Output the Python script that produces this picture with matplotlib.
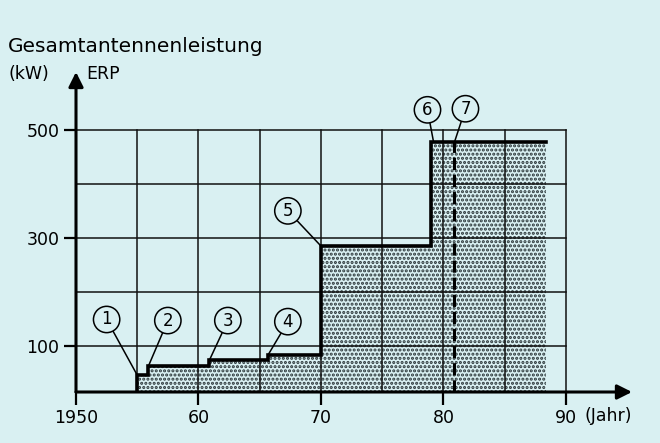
import matplotlib
matplotlib.use("Agg")
import matplotlib.pyplot as plt

# Gesamtantennenleistung (kW ERP) nach Jahr
step_years = [1955.0, 1955.9, 1960.9, 1965.7, 1970.0, 1979.0]
step_power = [46, 62, 74, 84, 285, 477]
end_year = 1988.4
dashed_year = 1980.9

# circled markers: label, label position, point on the curve
marker_labels = ["1", "2", "3", "4", "5", "6", "7"]
marker_pos = [(1952.5, 149), (1957.5, 147), (1962.4, 147), (1967.3, 145),
              (1967.3, 350), (1978.7, 537), (1981.8, 539)]
marker_target = [(1955.0, 46), (1955.9, 62), (1960.9, 74), (1965.7, 84),
                 (1970.0, 285), (1979.2, 477), (1980.9, 477)]

yticks = [100, 300, 500]
xticks = [1950, 1960, 1970, 1980, 1990]
xticklabels = ["1950", "60", "70", "80", "90"]

bg = "#d9f0f2"
plt.rcParams["font.family"] = ["DejaVu Sans"]
plt.rcParams["hatch.linewidth"] = 1.5
plt.rcParams["hatch.color"] = "#2a3538"

fig = plt.figure(figsize=(6.6, 4.43), dpi=100, facecolor=bg)
ax = fig.add_axes([76 / 660, 1 - 392 / 443, 556 / 660, 320 / 443])
ax.set_facecolor(bg)
xmin, xmax = 1950, 1995.4
ymin, ymax = 14.8, 607
ax.set_xlim(xmin, xmax)
ax.set_ylim(ymin, ymax)
for s in ax.spines.values():
    s.set_visible(False)

# stippled area under the curve
xs = [step_years[0]] + step_years + [end_year]
ys = [ymin] + step_power + [step_power[-1]]
ax.fill_between(xs, ys, ymin, step="post", facecolor=bg, hatch="....",
                edgecolor="#2a3538", linewidth=0, zorder=1)

# grid
for x in range(1955, 1991, 5):
    ax.plot([x, x], [ymin, 500], color="#111111", lw=1.1, zorder=2)
for y in range(100, 501, 100):
    ax.plot([xmin, 1990], [y, y], color="#111111", lw=1.1, zorder=2)

# step curve
ax.step(xs, ys, where="post", color="black", lw=2.6, zorder=4,
        solid_joinstyle="miter")
ax.plot([dashed_year, dashed_year], [ymin, step_power[-1]], color="black",
        lw=2.2, ls=(0, (4, 1.6)), zorder=4)

# axes with arrows
arrow = dict(arrowstyle="-|>", color="black", lw=2.2, mutation_scale=22,
             shrinkA=0, shrinkB=0)
ax.annotate("", xy=(xmax, ymin), xytext=(xmin, ymin), arrowprops=arrow,
            zorder=5, annotation_clip=False)
ax.annotate("", xy=(xmin, ymax), xytext=(xmin, ymin), arrowprops=arrow,
            zorder=5, annotation_clip=False)

ax.set_yticks(yticks)
ax.set_yticklabels([str(v) for v in yticks])
ax.set_xticks(xticks)
ax.set_xticklabels(xticklabels)
ax.tick_params(axis="both", direction="out", width=1.6, length=9,
               labelsize=12.5, pad=3, color="black")

ax.annotate("(Jahr)", xy=(1991.5, ymin), xytext=(0, -10.5),
            textcoords="offset points", ha="left", va="top", fontsize=12.5)

# circled labels with leader lines
for lab, pos, tgt in zip(marker_labels, marker_pos, marker_target):
    ax.annotate(lab, xy=tgt, xytext=pos, ha="center", va="center",
                fontsize=12, zorder=6,
                bbox=dict(boxstyle="circle,pad=0.25", fc=bg, ec="black",
                          lw=1.1),
                arrowprops=dict(arrowstyle="-", color="black", lw=1.1,
                                shrinkA=0, shrinkB=0))

fig.text(8 / 660, 1 - 47 / 443, "Gesamtantennenleistung", fontsize=14.5,
         ha="left", va="center")
fig.text(8 / 660, 1 - 74 / 443, "(kW)", fontsize=12.5, ha="left",
         va="center")
fig.text(86 / 660, 1 - 74 / 443, "ERP", fontsize=12.5, ha="left",
         va="center")

fig.savefig("out.png", dpi=100, facecolor=bg)
